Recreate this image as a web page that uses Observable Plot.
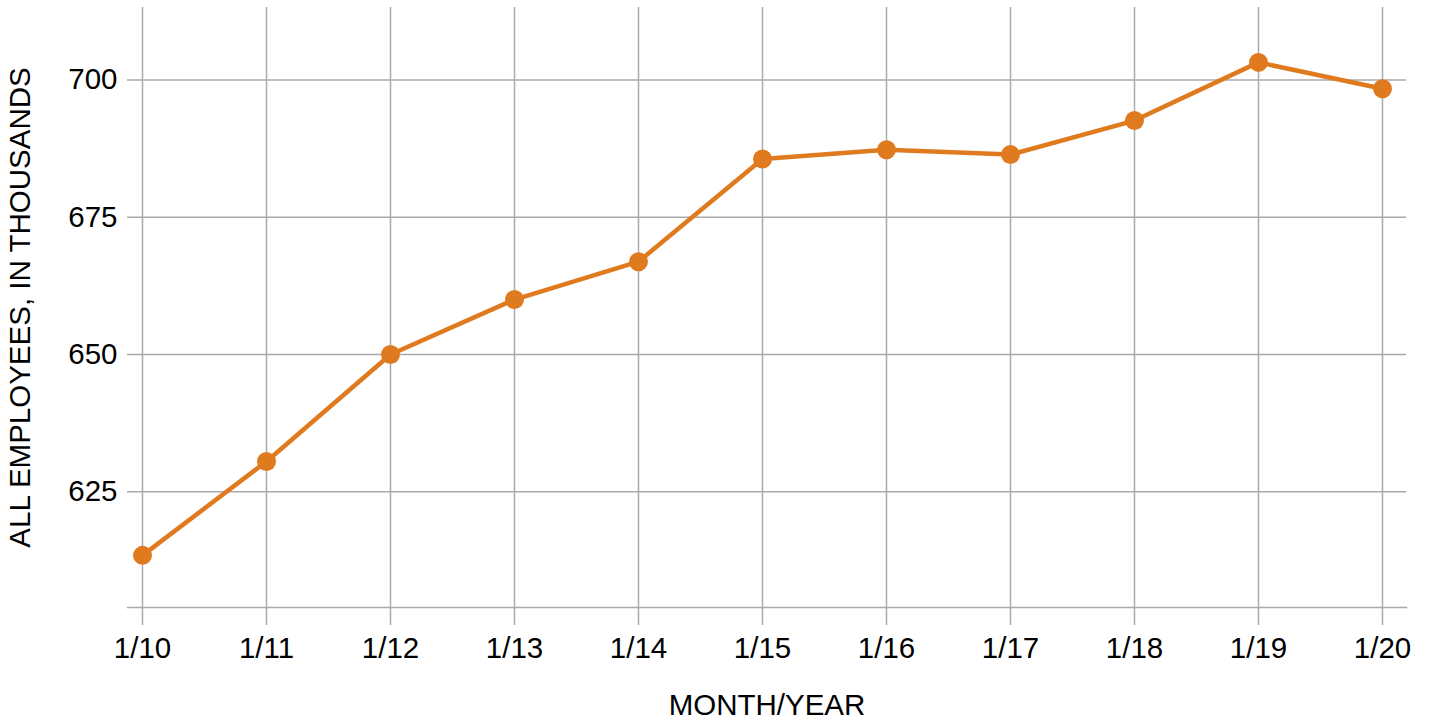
<!DOCTYPE html>
<html>
<head>
<meta charset="utf-8">
<script src="https://cdn.jsdelivr.net/npm/d3@7"></script>
<script src="https://cdn.jsdelivr.net/npm/@observablehq/plot@0.6"></script>
<style>
  html, body { margin: 0; padding: 0; background: #fff; }
  #chart svg { display: block; }
</style>
</head>
<body>
<div id="chart"></div>
<script>
const months = ["1/10", "1/11", "1/12", "1/13", "1/14", "1/15", "1/16", "1/17", "1/18", "1/19", "1/20"];
const employees = [613.4, 630.5, 650.0, 660.0, 666.9, 685.6, 687.3, 686.4, 692.6, 703.2, 698.4];
const yTicks = [625, 650, 675, 700];

const data = months.map((m, i) => ({month: m, value: employees[i]}));

const orange = "#e07a1f";
const gridColor = "#aaaaaa";
const font = "'Liberation Sans', Arial, Helvetica, sans-serif";

const chart = Plot.plot({
  width: 1432,
  height: 721,
  marginLeft: 127,
  marginRight: 26,
  marginTop: 7,
  marginBottom: 114,
  style: {fontFamily: font, fontSize: "29.5px", color: "#000", background: "#fff"},
  x: {type: "point", domain: months, range: [141, 1383], padding: 0, label: null},
  y: {domain: [603.9, 713.2], label: null},
  marks: [
    Plot.gridX(months, {stroke: gridColor, strokeOpacity: 1, strokeWidth: 1.5}),
    Plot.gridY(yTicks, {stroke: gridColor, strokeOpacity: 1, strokeWidth: 1.5}),
    Plot.frame({anchor: "bottom", stroke: gridColor, strokeWidth: 1.5}),
    Plot.axisX(months, {
      tickSize: 18, tickPadding: 12, stroke: gridColor, strokeWidth: 1.5,
      fill: "#000", fontSize: 29.5,
      label: "MONTH/YEAR", labelAnchor: "center", labelArrow: "none", labelOffset: 107
    }),
    Plot.axisY(yTicks, {
      tickSize: 0, tickPadding: 10, fill: "#000", fontSize: 29.5,
      label: "ALL EMPLOYEES, IN THOUSANDS", labelAnchor: "center", labelArrow: "none", labelOffset: 118
    }),
    Plot.line(data, {x: "month", y: "value", stroke: orange, strokeWidth: 4.5}),
    Plot.dot(data, {x: "month", y: "value", fill: orange, r: 9.5})
  ]
});

document.getElementById("chart").appendChild(chart);
</script>
</body>
</html>
